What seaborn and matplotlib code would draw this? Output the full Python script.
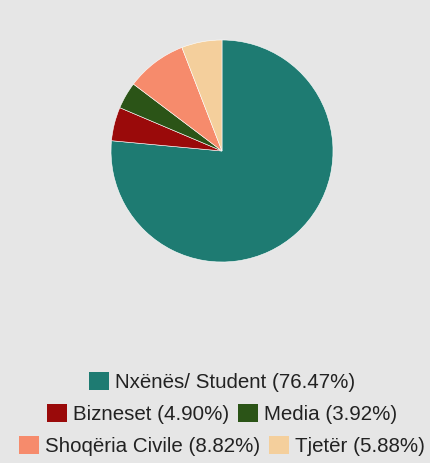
"""
Pie chart: Nxënës/ Student, Bizneset, Media, Shoqëria Civile, Tjetër
"""

import matplotlib
matplotlib.use("Agg")
import matplotlib.pyplot as plt
from matplotlib.patches import Patch
import seaborn as sns

categories = ["Nxënës/ Student", "Bizneset", "Media", "Shoqëria Civile", "Tjetër"]
shares = [76.47, 4.90, 3.92, 8.82, 5.88]
colors = ["#1e7b72", "#9a0a0a", "#2b5417", "#f68b6c", "#f4cf9c"]
legend_rows = [[0], [1, 2], [3, 4]]

sns.set_style("white")
plt.rcParams["font.family"] = ["Liberation Sans", "DejaVu Sans"]

bg = "#e6e6e6"
fig = plt.figure(figsize=(4.31, 4.63), dpi=100, facecolor=bg)

W, H = 431, 463
cx, cy, r = 222, 151, 111
ax = fig.add_axes([(cx - r) / W, (H - cy - r) / H, 2 * r / W, 2 * r / H])
ax.set_facecolor(bg)
ax.pie(shares, colors=colors, startangle=90, counterclock=False,
       wedgeprops=dict(edgecolor="white", linewidth=0.4))
ax.set_xlim(-1, 1)
ax.set_ylim(-1, 1)
ax.set_aspect("equal")
ax.axis("off")

# 三行图例
row_y = [382, 414, 446]
for row, y in zip(legend_rows, row_y):
    handles = [Patch(facecolor=colors[i], edgecolor="none") for i in row]
    labels = [f"{categories[i]} ({shares[i]:.2f}%)" for i in row]
    fig.legend(handles, labels, loc="center", bbox_to_anchor=(0.515, 1 - y / H),
               ncol=len(row), frameon=False, fontsize=14.8,
               handlelength=0.95, handleheight=0.95, handletextpad=0.3,
               columnspacing=0.45, borderpad=0, labelcolor="#222222")

fig.savefig("out.png", dpi=100, facecolor=bg)
